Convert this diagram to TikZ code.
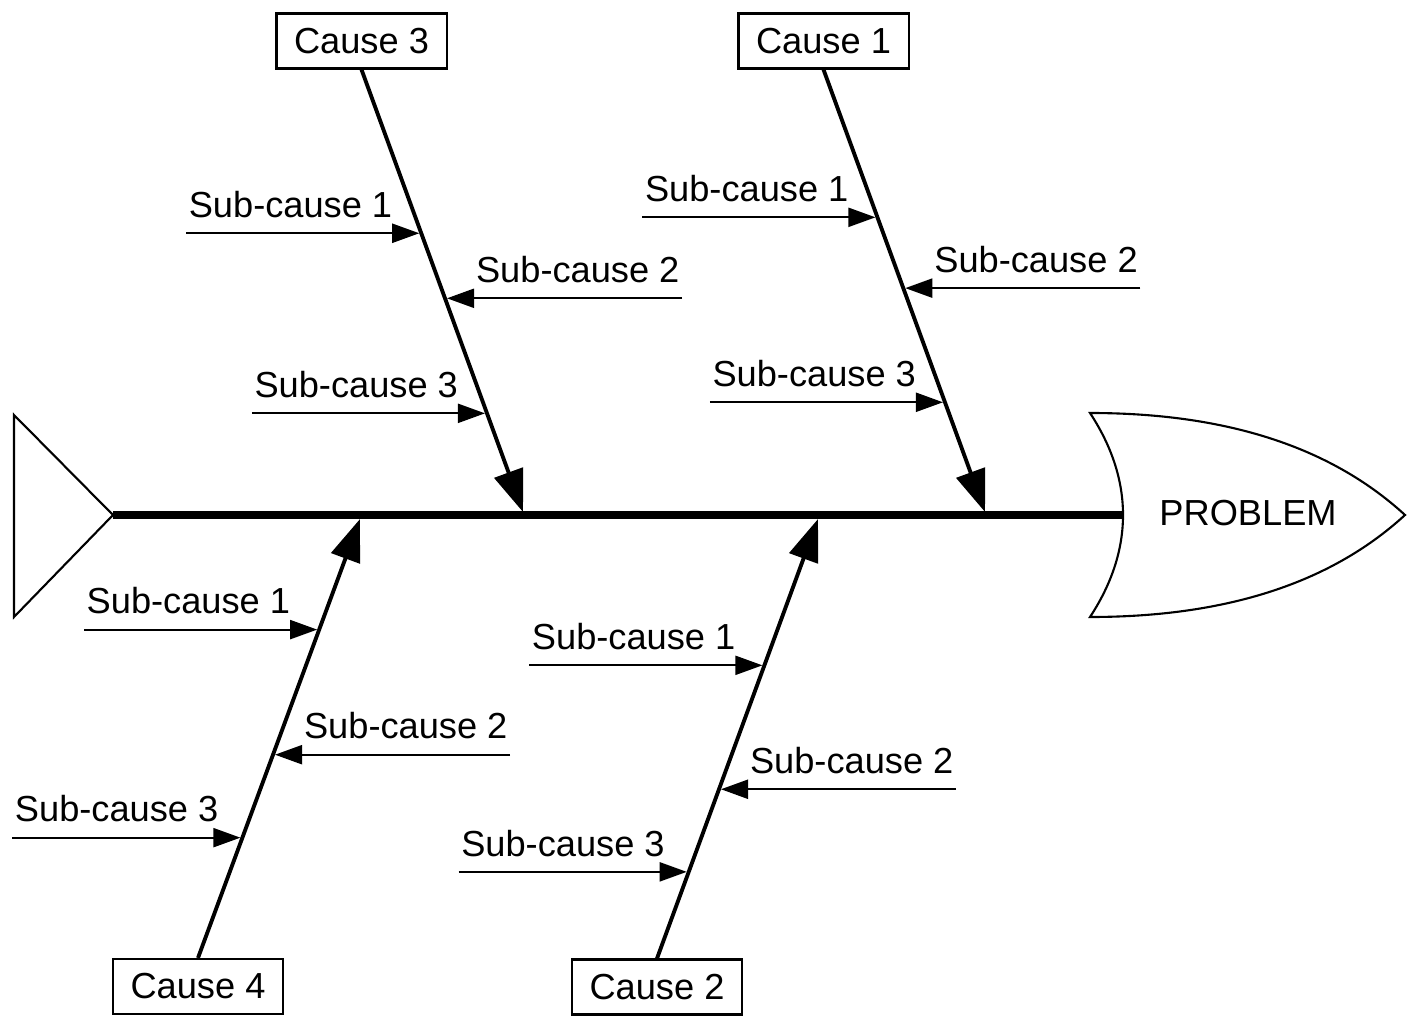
\documentclass[tikz,border=0pt]{standalone}
\usepackage{fontspec}
\setmainfont{Liberation Sans}
\usetikzlibrary{arrows.meta}

\begin{document}
\begin{tikzpicture}[
  x=0.01cm, y=-0.01cm,
  every node/.style={font=\fontsize{10.3}{12}\selectfont},
  cause/.style={rectangle,draw,line width=0.6pt,minimum width=1.7cm,minimum height=0.55cm,inner sep=0pt},
  sublabel/.style={inner xsep=0.02cm,inner ysep=0.15cm,text depth=0pt},
  spine/.style={line width=2pt},
  branch/.style={line width=1.1pt,-{Triangle[length=0.42cm,width=0.3cm]}},
  subarrow/.style={line width=0.6pt,shorten >=0.02cm,-{Triangle[length=0.27cm,width=0.19cm]}},
  outline/.style={line width=0.6pt,line join=miter}
]

\useasboundingbox (0,0) rectangle (1407,1016);

\coordinate (tail) at (113,515);
\coordinate (neck) at (1122,515);
\draw[outline] (14,415) -- (tail) -- (14,617) -- cycle;
\draw[outline] (1090,413) .. controls (1250,413) and (1345,460) .. (1405,515)
  .. controls (1345,570) and (1250,617) .. (1090,617)
  .. controls (1134,550) and (1134,480) .. cycle;
\node (problem) at (1248,513) {PROBLEM};
\draw[spine] (tail) -- (neck);

\node[cause] (cause3) at (361.5,41) {Cause 3};
\node[cause] (cause1) at (823.5,41) {Cause 1};
\node[cause] (cause4) at (198,986.5) {Cause 4};
\node[cause] (cause2) at (657,987) {Cause 2};

\coordinate (j3) at (523,512);
\coordinate (j1) at (985,512);
\coordinate (j4) at (360,519);
\coordinate (j2) at (818,519);

\draw[branch] (cause3.south) -- (j3) coordinate[pos=0.370] (c3a) coordinate[pos=0.517] (c3b) coordinate[pos=0.777] (c3c);
\draw[branch] (cause1.south) -- (j1) coordinate[pos=0.334] (c1a) coordinate[pos=0.494] (c1b) coordinate[pos=0.752] (c1c);
\draw[branch] (cause4.north) -- (j4) coordinate[pos=0.748] (c4a) coordinate[pos=0.463] (c4b) coordinate[pos=0.274] (c4c);
\draw[branch] (cause2.north) -- (j2) coordinate[pos=0.667] (c2a) coordinate[pos=0.385] (c2b) coordinate[pos=0.197] (c2c);

\node[sublabel,anchor=south west] (c3s1) at ([xshift=-2.35cm]c3a) {Sub-cause 1};
\node[sublabel,anchor=south east] (c3s2) at ([xshift=2.37cm]c3b) {Sub-cause 2};
\node[sublabel,anchor=south west] (c3s3) at ([xshift=-2.35cm]c3c) {Sub-cause 3};
\draw[subarrow] (c3s1.south west) -- (c3a);
\draw[subarrow] (c3s2.south east) -- (c3b);
\draw[subarrow] (c3s3.south west) -- (c3c);

\node[sublabel,anchor=south west] (c1s1) at ([xshift=-2.35cm]c1a) {Sub-cause 1};
\node[sublabel,anchor=south east] (c1s2) at ([xshift=2.37cm]c1b) {Sub-cause 2};
\node[sublabel,anchor=south west] (c1s3) at ([xshift=-2.35cm]c1c) {Sub-cause 3};
\draw[subarrow] (c1s1.south west) -- (c1a);
\draw[subarrow] (c1s2.south east) -- (c1b);
\draw[subarrow] (c1s3.south west) -- (c1c);

\node[sublabel,anchor=south west] (c4s1) at ([xshift=-2.35cm]c4a) {Sub-cause 1};
\node[sublabel,anchor=south east] (c4s2) at ([xshift=2.37cm]c4b) {Sub-cause 2};
\node[sublabel,anchor=south west] (c4s3) at ([xshift=-2.3cm]c4c) {Sub-cause 3};
\draw[subarrow] (c4s1.south west) -- (c4a);
\draw[subarrow] (c4s2.south east) -- (c4b);
\draw[subarrow] (c4s3.south west) -- (c4c);

\node[sublabel,anchor=south west] (c2s1) at ([xshift=-2.35cm]c2a) {Sub-cause 1};
\node[sublabel,anchor=south east] (c2s2) at ([xshift=2.37cm]c2b) {Sub-cause 2};
\node[sublabel,anchor=south west] (c2s3) at ([xshift=-2.3cm]c2c) {Sub-cause 3};
\draw[subarrow] (c2s1.south west) -- (c2a);
\draw[subarrow] (c2s2.south east) -- (c2b);
\draw[subarrow] (c2s3.south west) -- (c2c);

\end{tikzpicture}
\end{document}
